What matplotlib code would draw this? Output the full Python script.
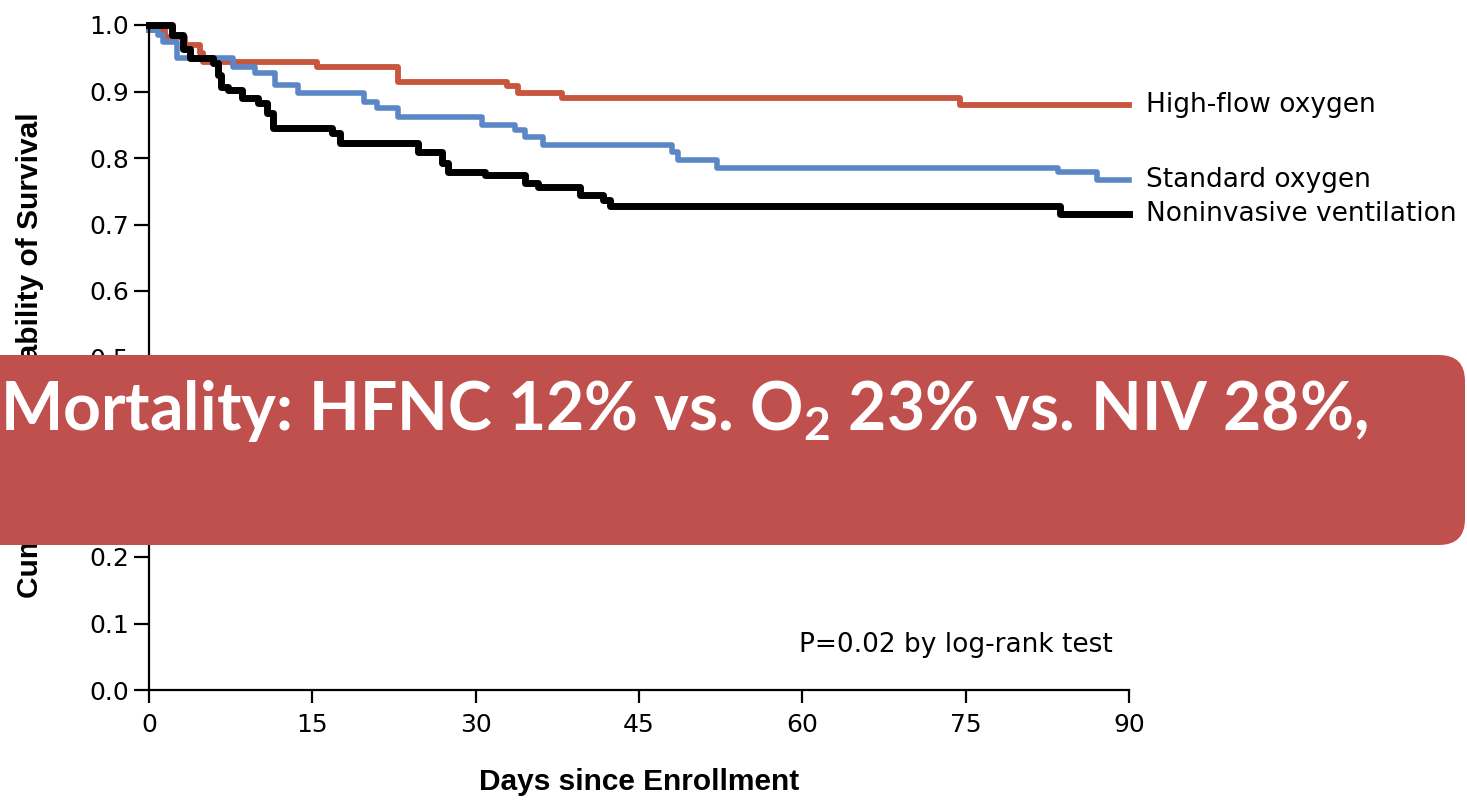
import matplotlib
matplotlib.use("Agg")
import matplotlib.pyplot as plt
from matplotlib.patches import FancyBboxPatch
from matplotlib.transforms import IdentityTransform

# Kaplan-Meier step data (time in days, survival)
hf_days = [0, 1.5, 3.3, 4.7, 5.0, 15.4, 22.9, 32.9, 33.9, 37.9, 74.5, 90]
hf_surv = [0.992, 0.982, 0.970, 0.958, 0.944, 0.937, 0.914, 0.908, 0.898, 0.890, 0.880, 0.880]

std_days = [0, 0.8, 1.3, 2.6, 7.7, 9.7, 11.6, 13.7, 19.7, 20.9, 22.9, 30.6, 33.6, 34.5,
            36.2, 48.0, 48.6, 52.2, 83.5, 87.1, 90]
std_surv = [0.992, 0.985, 0.975, 0.950, 0.937, 0.928, 0.910, 0.898, 0.884, 0.875, 0.862,
            0.850, 0.842, 0.832, 0.820, 0.809, 0.797, 0.785, 0.779, 0.767, 0.767]

niv_days = [0, 2.1, 3.1, 3.8, 5.9, 6.3, 6.6, 7.3, 8.5, 10.0, 10.8, 11.4, 16.8, 17.5, 24.7,
            26.9, 27.5, 30.9, 34.5, 35.7, 39.6, 41.7, 42.3, 83.7, 90]
niv_surv = [1.0, 0.985, 0.964, 0.950, 0.943, 0.925, 0.907, 0.902, 0.890, 0.883, 0.868, 0.845,
            0.838, 0.822, 0.809, 0.792, 0.779, 0.774, 0.762, 0.756, 0.744, 0.737, 0.728,
            0.716, 0.716]

group_labels = ["High-flow oxygen", "Standard oxygen", "Noninvasive ventilation"]
x_ticks = [0, 15, 30, 45, 60, 75, 90]
y_ticks = [0.0, 0.1, 0.2, 0.3, 0.4, 0.5, 0.6, 0.7, 0.8, 0.9, 1.0]
banner_text = "Mortality: HFNC 12% vs. O$_2$ 23% vs. NIV 28%,"

plt.rcParams['mathtext.fontset'] = 'custom'
plt.rcParams['mathtext.rm'] = 'Lato:bold'
plt.rcParams['mathtext.default'] = 'rm'

W, H = 1467, 800
fig = plt.figure(figsize=(W / 100, H / 100), dpi=100)
ax = fig.add_axes([149 / W, 110 / H, 980 / W, 665 / H])

ax.step(hf_days, hf_surv, where='post', color='#C8553D', lw=4.2, clip_on=False)
ax.step(std_days, std_surv, where='post', color='#5B87C6', lw=4.0, clip_on=False)
ax.step(niv_days, niv_surv, where='post', color='black', lw=5.0, clip_on=False)

ends = [hf_surv[-1], std_surv[-1], niv_surv[-1]]
for lab, yv in zip(group_labels, ends):
    ax.text(91.6, yv, lab, ha='left', va='center', fontsize=19, clip_on=False)

ax.text(88.5, 0.068, "P=0.02 by log-rank test", ha='right', va='center', fontsize=19)

ax.set_xlim(0, 90)
ax.set_ylim(0, 1.0)
ax.set_xticks(x_ticks)
ax.set_yticks(y_ticks)
ax.set_yticklabels([f"{v:.1f}" for v in y_ticks])
for s in ['top', 'right']:
    ax.spines[s].set_visible(False)
for s in ['left', 'bottom']:
    ax.spines[s].set_linewidth(1.6)
ax.tick_params(axis='x', direction='out', length=9.5, width=1.6, labelsize=18, pad=7)
ax.tick_params(axis='y', direction='out', length=11, width=1.6, labelsize=18, pad=3.5)

fig.text(30 / W, 1 - 355 / H, "Cumulative Probability of Survival", rotation=90,
         ha='center', va='center', fontsize=21.5, fontweight='bold', family='Liberation Sans')
fig.text(639 / W, 1 - 782 / H, "Days since Enrollment", ha='center', va='center',
         fontsize=21.5, fontweight='bold', family='Liberation Sans')

# red banner on top of the chart
banner = FancyBboxPatch((-100, H - 545), 1565, 190,
                        boxstyle='round,pad=0,rounding_size=26',
                        transform=IdentityTransform(), facecolor='#C0504D',
                        edgecolor='none', zorder=10)
fig.patches.append(banner)
fig.text(0, 1 - 430 / H, banner_text, ha='left', va='baseline', color='white',
         fontsize=47.5, fontweight='bold', family='Lato', zorder=11)

fig.savefig("out.png", dpi=100)
